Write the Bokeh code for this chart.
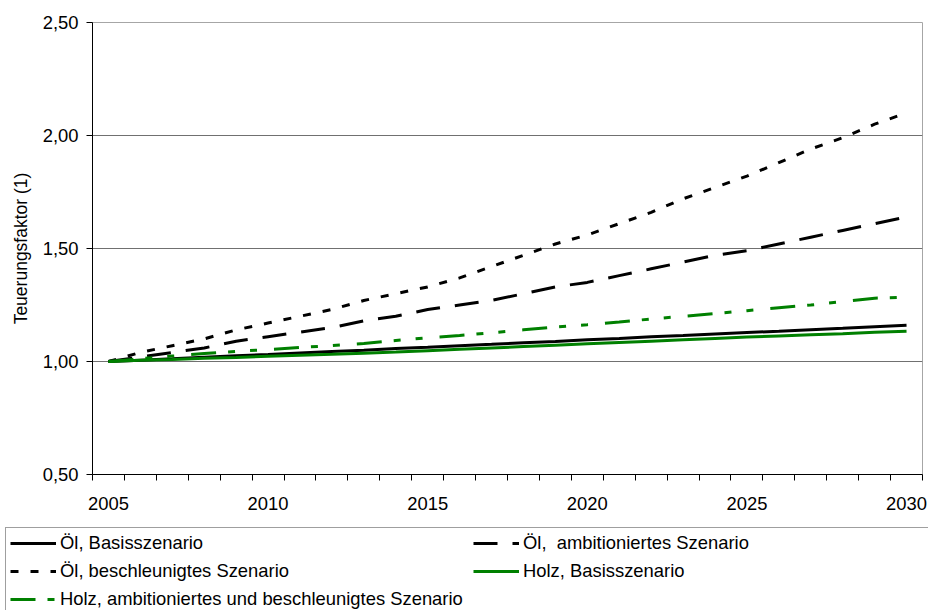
from bokeh.plotting import figure
from bokeh.layouts import column
from bokeh.models import Range1d, FixedTicker, Legend, LegendItem
from bokeh.embed import file_html
from bokeh.resources import INLINE

# ---- data ----
years = list(range(2005, 2031))

oel_basis = [1.000, 1.006, 1.012, 1.019, 1.025, 1.031, 1.038, 1.044, 1.050, 1.057,
             1.063, 1.070, 1.076, 1.083, 1.089, 1.096, 1.102, 1.109, 1.115, 1.122,
             1.128, 1.134, 1.141, 1.147, 1.154, 1.160]
oel_ambitioniert = [1.00, 1.02, 1.04, 1.06, 1.09, 1.11, 1.13, 1.15, 1.18, 1.20,
                    1.23, 1.25, 1.27, 1.30, 1.33, 1.35, 1.38, 1.41, 1.44, 1.47,
                    1.49, 1.52, 1.55, 1.58, 1.61, 1.64]
oel_beschleunigt = [1.00, 1.04, 1.07, 1.10, 1.14, 1.17, 1.20, 1.23, 1.27, 1.30,
                    1.33, 1.37, 1.42, 1.47, 1.52, 1.56, 1.61, 1.66, 1.72, 1.77,
                    1.82, 1.88, 1.94, 1.99, 2.05, 2.10]
holz_basis = [1.000, 1.005, 1.009, 1.014, 1.018, 1.023, 1.028, 1.032, 1.037, 1.042,
              1.048, 1.054, 1.060, 1.066, 1.072, 1.078, 1.084, 1.090, 1.096, 1.102,
              1.108, 1.113, 1.118, 1.123, 1.129, 1.134]
holz_ambitioniert = [1.000, 1.012, 1.024, 1.035, 1.045, 1.053, 1.062, 1.070, 1.080, 1.093,
                     1.105, 1.115, 1.127, 1.140, 1.152, 1.163, 1.175, 1.188, 1.200, 1.212,
                     1.225, 1.238, 1.250, 1.265, 1.280, 1.285]

series_labels = ["Öl, Basisszenario",
                 "Öl,  ambitioniertes Szenario",
                 "Öl, beschleunigtes Szenario",
                 "Holz, Basisszenario",
                 "Holz, ambitioniertes und beschleunigtes Szenario"]

x_tick_years = [2005, 2010, 2015, 2020, 2025, 2030]
x_tick_labels = ["2005", "2010", "2015", "2020", "2025", "2030"]
y_ticks = [0.5, 1.0, 1.5, 2.0, 2.5]
y_tick_labels = ["0,50", "1,00", "1,50", "2,00", "2,50"]
y_title = "Teuerungsfaktor (1)"

FONT = "Liberation Sans"
FS = "18.4px"
GREEN = "#008000"
styles = [
    (oel_basis, "black", "solid"),
    (oel_ambitioniert, "black", "24 15"),
    (oel_beschleunigt, "black", "8 12"),
    (holz_basis, GREEN, "solid"),
    (holz_ambitioniert, GREEN, "25 12 7 15 7 17"),
]

# ---- main chart ----
p = figure(width=928, height=522,
           x_range=Range1d(years[0] - 0.5, years[-1] + 0.5),
           y_range=Range1d(y_ticks[0], y_ticks[-1]),
           output_backend="svg", toolbar_location=None,
           min_border_left=92, min_border_right=6,
           min_border_top=22, min_border_bottom=48)
p.frame_align = False
p.background_fill_color = "white"
p.border_fill_color = "white"
p.outline_line_color = "#a6a6a6"

boundaries = [y - 0.5 for y in years] + [years[-1] + 0.5]
xa = p.xaxis[0]
xa.ticker = FixedTicker(ticks=x_tick_years, minor_ticks=boundaries)
xa.major_label_overrides = {t: l for t, l in zip(x_tick_years, x_tick_labels)}
xa.major_tick_out = 0
xa.major_tick_in = 0
xa.minor_tick_out = 6
xa.minor_tick_in = 0
xa.minor_tick_line_color = "black"
xa.axis_line_color = "black"
xa.major_label_standoff = 16
xa.major_label_text_font = FONT
xa.major_label_text_font_size = FS
xa.major_label_text_color = "black"

ya = p.yaxis[0]
ya.ticker = FixedTicker(ticks=y_ticks, minor_ticks=[])
ya.major_label_overrides = {t: l for t, l in zip(y_ticks, y_tick_labels)}
ya.major_tick_out = 6
ya.major_tick_in = 0
ya.minor_tick_out = 0
ya.minor_tick_in = 0
ya.major_tick_line_color = "black"
ya.axis_line_color = "black"
ya.major_label_standoff = 8
ya.major_label_text_font = FONT
ya.major_label_text_font_size = FS
ya.major_label_text_color = "black"
ya.axis_label = y_title
ya.axis_label_text_font = FONT
ya.axis_label_text_font_size = "17.5px"
ya.axis_label_text_font_style = "normal"
ya.axis_label_text_color = "black"
ya.axis_label_standoff = 9

p.xgrid.visible = False
p.ygrid.ticker = FixedTicker(ticks=y_ticks[1:])
p.ygrid.grid_line_color = "#707070"
p.ygrid.grid_line_width = 1

for vals, col, dash in styles:
    p.line(years, vals, line_color=col, line_width=3, line_dash=dash)

# ---- legend strip (same series, drawn outside its visible range) ----
q = figure(width=928, height=88, x_range=Range1d(0, 1), y_range=Range1d(0, 1),
           output_backend="svg", toolbar_location=None,
           min_border_left=0, min_border_right=0, min_border_top=0, min_border_bottom=0)
q.frame_align = False
q.xaxis.visible = False
q.yaxis.visible = False
q.xgrid.visible = False
q.ygrid.visible = False
q.outline_line_color = None
q.background_fill_color = "white"
q.border_fill_color = "white"

leg_renderers = []
for vals, col, dash in styles:
    r = q.line(years, vals, line_color=col, line_width=3, line_dash=dash)
    leg_renderers.append(r)

items = [LegendItem(label=lab, renderers=[r]) for lab, r in zip(series_labels, leg_renderers)]
legend = Legend(items=items, location="top_left", orientation="horizontal", ncols=2,
                border_line_color="#404040", border_line_width=1,
                background_fill_color="white", background_fill_alpha=1.0,
                label_text_font=FONT, label_text_font_size=FS, label_text_color="black",
                glyph_width=46, glyph_height=20, label_height=20, label_standoff=4,
                spacing=6, padding=4, margin=5, label_width=407)
q.add_layout(legend, "center")

layout = column(p, q)
open("out.html", "w").write(file_html(layout, INLINE))
